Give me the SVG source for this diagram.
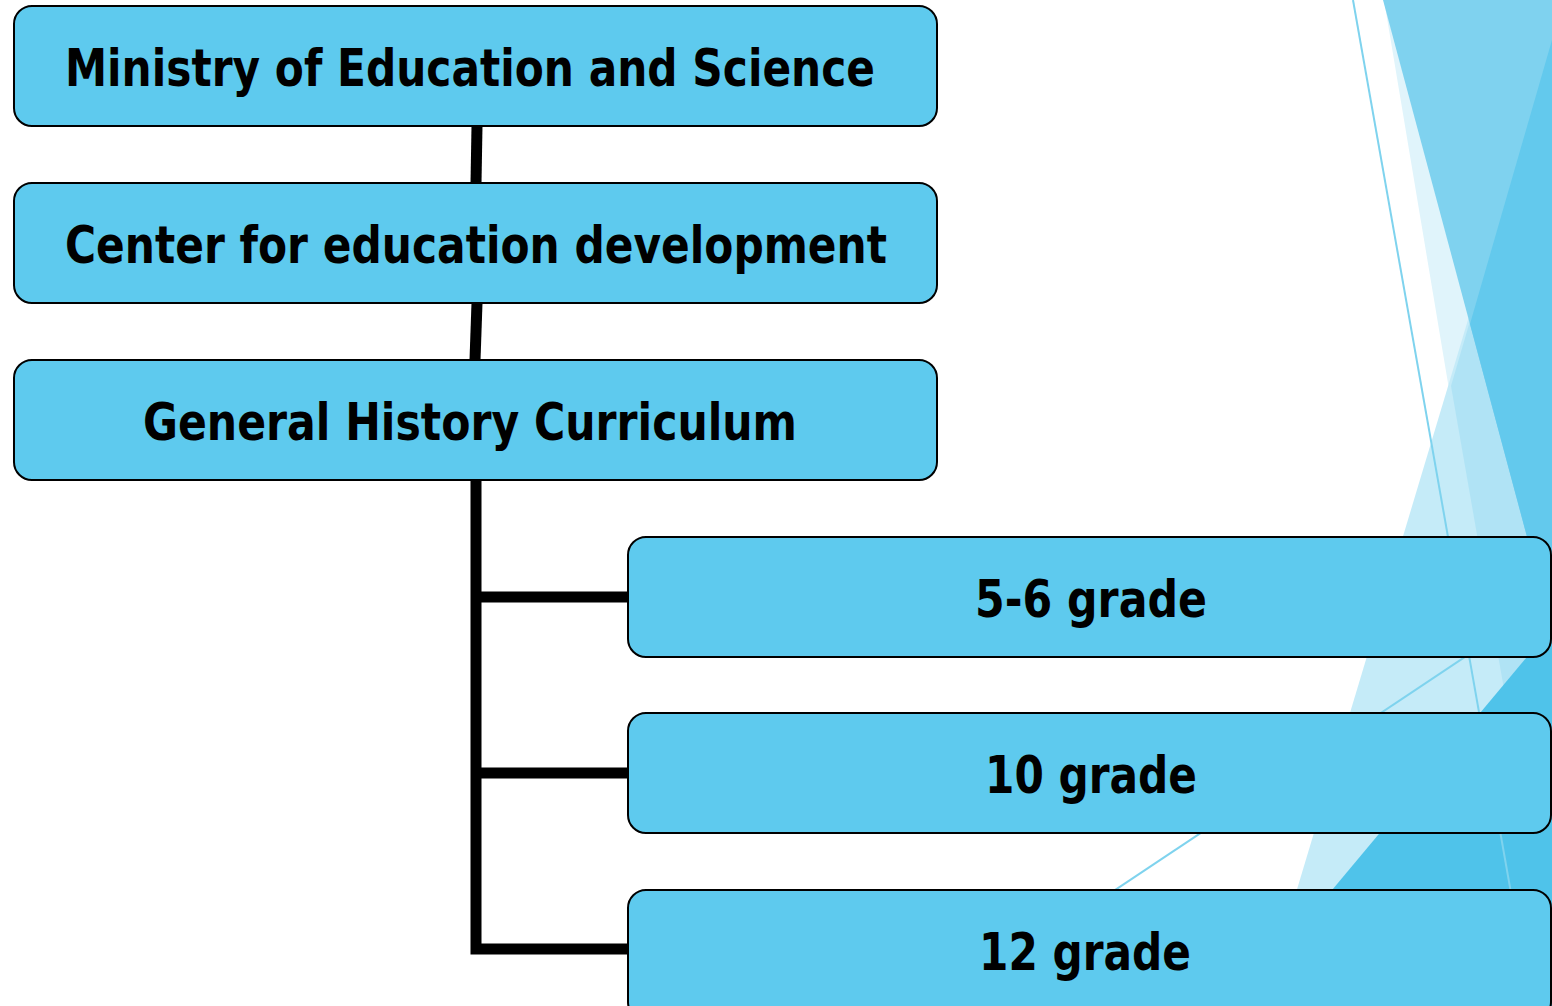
<svg xmlns="http://www.w3.org/2000/svg" width="1552" height="1006" viewBox="0 0 1552 1006">
<style>
.box{fill:#5ecaee;stroke:#000;stroke-width:2}
.lbl{font-family:"DejaVu Sans",sans-serif;font-weight:bold;font-size:52px;fill:#000;text-anchor:middle}
.conn{stroke:#000;stroke-width:11;fill:none;stroke-linecap:butt;stroke-linejoin:miter}
.deco{stroke:#7fd3ee;stroke-width:2;fill:none}
</style>
<rect width="1552" height="1006" fill="#fff"/>
<g id="background">
<polygon points="1384,0 1552,0 1552,1006" fill="#e0f4fb"/>
<polygon points="1552,40 1552,1006 1262,1006" fill="#c5ebf8"/>
<polygon points="1552,40 1451,386 1552,964" fill="#b0e3f5"/>
<polygon points="1383,0 1552,0 1552,630" fill="#7fd2ef"/>
<polygon points="1552,40 1470,324 1552,630" fill="#63c9ed"/>
<polygon points="1552,627 1552,1006 1235,1006" fill="#4fc3ea"/>
<line class="deco" x1="1353" y1="0" x2="1531" y2="1006"/>
<line class="deco" x1="941" y1="1006" x2="1552" y2="599"/>
</g>
<g id="connectors">
<line class="conn" x1="477" y1="126" x2="476" y2="183"/>
<line class="conn" x1="477" y1="303" x2="475" y2="360"/>
<polyline class="conn" points="476,480 476,949 628,949"/>
<line class="conn" x1="476" y1="597" x2="628" y2="597"/>
<line class="conn" x1="476" y1="773" x2="628" y2="773"/>
</g>
<g id="node-ministry">
<rect class="box" x="14" y="6" width="923" height="120" rx="18"/>
<text class="lbl" x="470" y="86" textLength="810" lengthAdjust="spacingAndGlyphs">Ministry of Education and Science</text>
</g>
<g id="node-center">
<rect class="box" x="14" y="183" width="923" height="120" rx="18"/>
<text class="lbl" x="476" y="263" textLength="822" lengthAdjust="spacingAndGlyphs">Center for education development</text>
</g>
<g id="node-curriculum">
<rect class="box" x="14" y="360" width="923" height="120" rx="18"/>
<text class="lbl" x="470" y="440" textLength="654" lengthAdjust="spacingAndGlyphs">General History Curriculum</text>
</g>
<g id="node-grade56">
<rect class="box" x="628" y="537" width="923" height="120" rx="18"/>
<text class="lbl" x="1091" y="617" textLength="232" lengthAdjust="spacingAndGlyphs">5-6 grade</text>
</g>
<g id="node-grade10">
<rect class="box" x="628" y="713" width="923" height="120" rx="18"/>
<text class="lbl" x="1091" y="793" textLength="212" lengthAdjust="spacingAndGlyphs">10 grade</text>
</g>
<g id="node-grade12">
<rect class="box" x="628" y="890" width="923" height="130" rx="18"/>
<text class="lbl" x="1085" y="970" textLength="212" lengthAdjust="spacingAndGlyphs">12 grade</text>
</g>
</svg>
